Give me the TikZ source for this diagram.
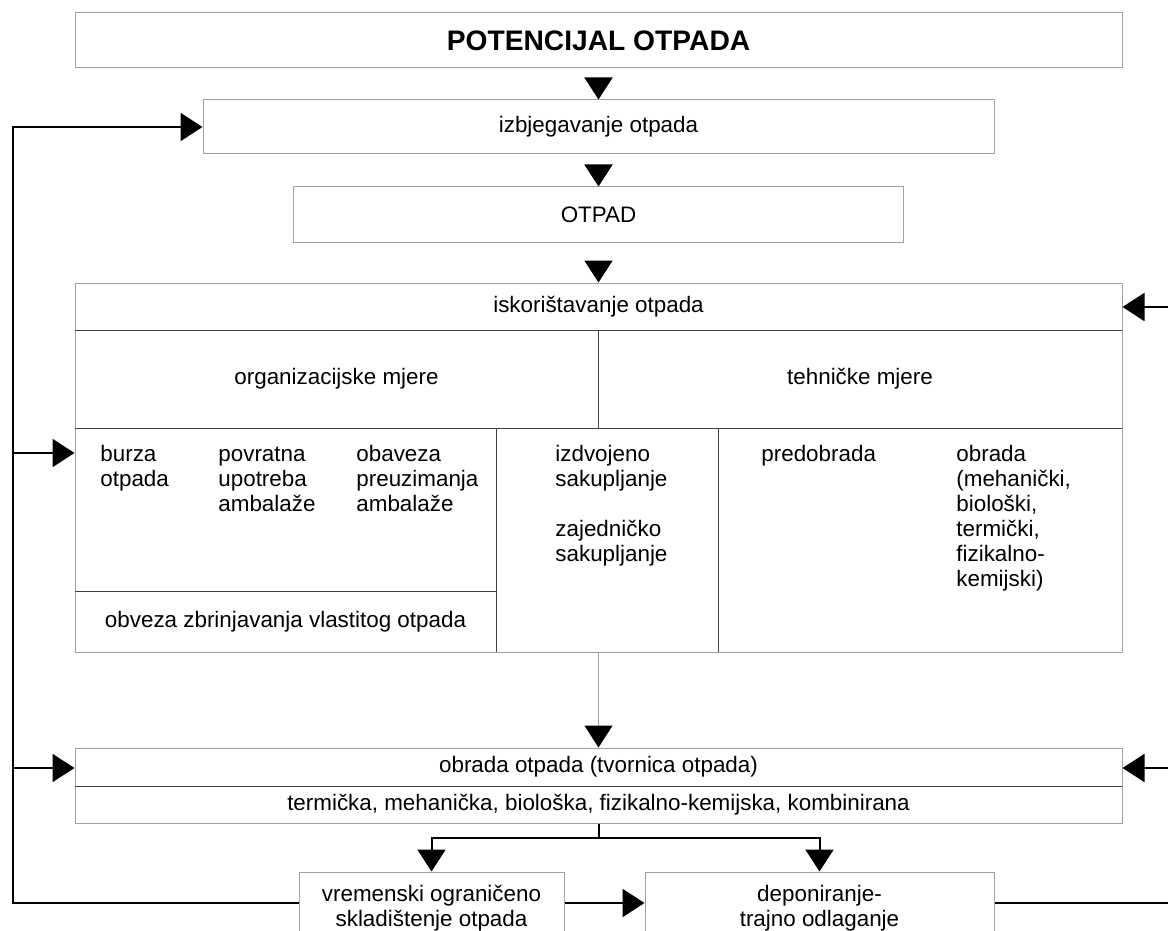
\documentclass[tikz,border=0pt]{standalone}
\usepackage{fontspec}
\setmainfont{Liberation Sans}
\usetikzlibrary{positioning, arrows.meta}

\definecolor{rimgray}{HTML}{A0A0A0}
\definecolor{divgray}{HTML}{404040}

\tikzset{
  box/.style={rectangle, draw=rimgray, line width=0.5pt, inner sep=0pt,
    font=\fontsize{11.2}{12.5}\selectfont},
  txt/.style={inner sep=0pt, align=left, font=\fontsize{11.2}{12.5}\selectfont},
  tri/.style={-{Triangle[length=11pt,width=14pt]}, line width=1pt},
  headonly/.style={shorten <=14pt},
  divider/.style={draw=divgray, line width=0.5pt}
}

\begin{document}
\begin{tikzpicture}[x=0.5pt, y=-0.5pt]
    \useasboundingbox (0,0) rectangle (1168,931);

    \node[box,
    minimum width=523.5pt,
    minimum height=27.5pt,
    font=\bfseries\fontsize{14.1}{16}\selectfont] (pot) at (598.5,40.5) {POTENCIJAL OTPADA};

    \node[box,
    minimum width=395.5pt,
    minimum height=27pt] (izb) at (598.5,127) {izbjegavanje otpada};

    \node[box,
    minimum width=305pt,
    minimum height=27.5pt] (otp) at (598.5,214.5) {OTPAD};

    % iskoristavanje, with its cells
    \node[box,
    minimum width=523.5pt,
    minimum height=184.5pt] (isk) at (598.5,467.5) {};

    \draw[divider] (75,330) -- (1122,330);
    \draw[divider] (598,330) -- (598,428);
    \draw[divider] (75,428) -- (1122,428);
    \draw[divider] (496,428) -- (496,652);
    \draw[divider] (718,428) -- (718,652);
    \draw[divider] (75,591) -- (496,591);

    \node[txt] (head) at (598.5,307) {iskorištavanje otpada};
    \node[txt] (org) at (336.5,379) {organizacijske mjere};
    \node[txt] (teh) at (860,379) {tehničke mjere};

    % base = last line
    \node[txt, anchor=base west] (burza) at (100,486) {burza\\otpada};
    \node[txt, anchor=base west] (povrat) at (218,511) {povratna\\upotreba\\ambalaže};
    \node[txt, anchor=base west] (obavez) at (356,511) {obaveza\\preuzimanja\\ambalaže};
    \node[txt] (obvez) at (285.5,621.5) {obveza zbrinjavanja vlastitog otpada};

    \node[txt, anchor=base west] (izdv) at (555,486) {izdvojeno\\sakupljanje};
    \node[txt, anchor=base west] (zajed) at (555,561) {zajedničko\\sakupljanje};

    \node[txt, anchor=base west] (predo) at (761,461) {predobrada};
    \node[txt, anchor=base west] (obrtxt) at (956,586)
      {obrada\\(mehanički,\\biološki,\\termički,\\fizikalno-\\kemijski)};

    % tvornica otpada
    \node[box,
    minimum width=523.5pt,
    minimum height=37.5pt] (obr) at (598.5,785.5) {};
    \draw[divider] (75,786) -- (1122,786);
    \node[txt] (obrhead) at (598.5,767) {obrada otpada (tvornica otpada)};
    \node[txt] (obrvrste) at (598.5,804.5)
      {termička, mehanička, biološka, fizikalno-kemijska, kombinirana};

    \node[box,
    minimum width=132.5pt,
    minimum height=31pt] (vrem) at (431.5,903) {};
    \node[txt, align=center, anchor=base] (vremtxt) at (431.5,926)
      {vremenski ograničeno\\skladištenje otpada};

    \node[box,
    minimum width=174.5pt,
    minimum height=31pt] (dep) at (819.5,903) {};
    \node[txt, align=center, anchor=base] (deptxt) at (819.5,926)
      {deponiranje-\\trajno odlaganje};

    \draw[tri, headonly] (pot.south) -- (izb.north);
    \draw[tri, headonly] (izb.south) -- (otp.north);
    \draw[tri, headonly] (otp.south) -- (isk.north);

    \draw[draw=rimgray, line width=0.5pt,
      -{Triangle[length=11pt,width=14pt,color=black]}] (isk.south) -- (obr.north);

    \draw[tri] (obr.south) -- ++(0,14) -| (vrem.north);
    \draw[tri] (obr.south) -- ++(0,14) -| (dep.north);
    \draw[tri] (vrem.east) -- (dep.west);

    % povratne veze
    \coordinate (lup) at (12.5,127);
    \coordinate (lmid) at (12.5,453);
    \coordinate (llow) at (12.5,768);
    \draw[tri] (vrem.west) -| (lup) -- (izb.west);
    \draw[tri] (lmid) -- (lmid -| isk.west);
    \draw[tri] (llow) -- (llow -| obr.west);

    \coordinate (rup) at (1172,307);
    \coordinate (rlow) at (1172,768);
    \draw[tri] (dep.east) -| (rup) -- (rup -| isk.east);
    \draw[tri] (rlow) -- (rlow -| obr.east);
\end{tikzpicture}
\end{document}
